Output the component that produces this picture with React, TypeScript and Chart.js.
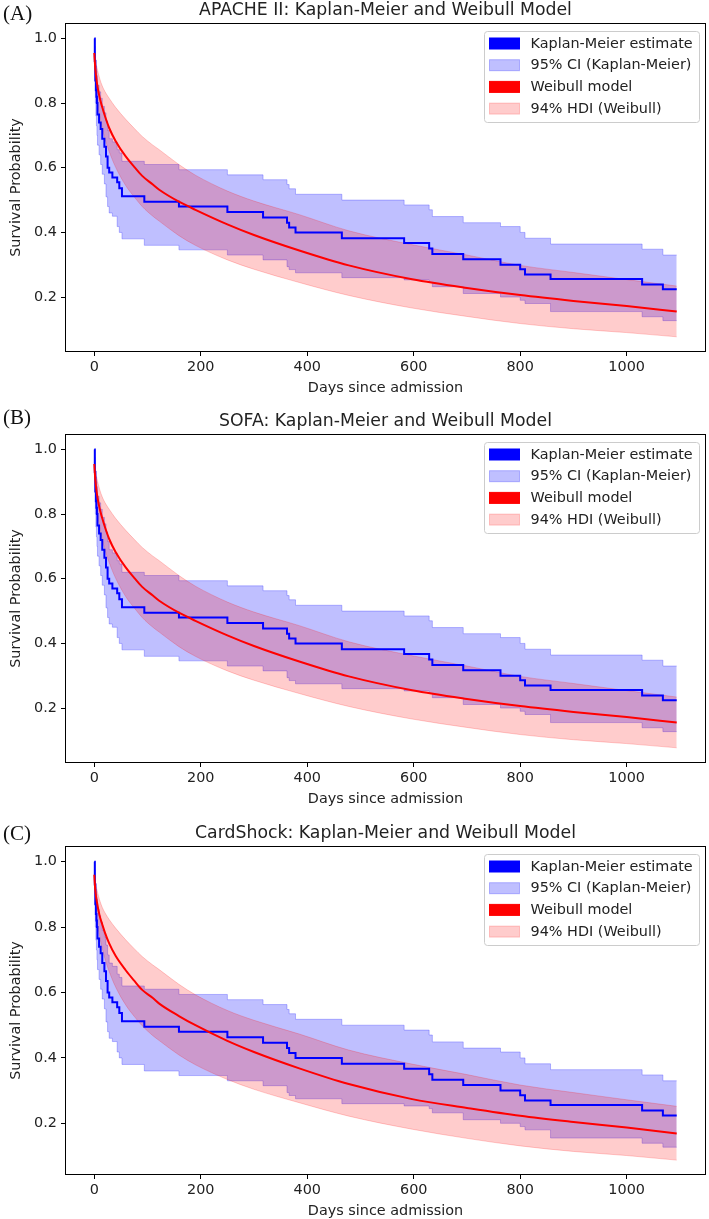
import React, { useEffect, useRef } from "react";
import { Chart, registerables } from "chart.js";

Chart.register(...registerables);

// ---------------- data ----------------
const kmDays = [0, 1, 2, 3, 4, 5, 6, 9, 12, 15, 19, 22, 25, 28, 34, 43, 47, 52, 94, 159, 250, 317, 362, 366, 378, 465, 582, 629, 635, 693, 763, 800, 809, 857, 1029, 1068, 1094];
const kmSurvival = [1.0, 0.93, 0.87, 0.84, 0.82, 0.8, 0.765, 0.74, 0.72, 0.69, 0.665, 0.635, 0.6, 0.585, 0.57, 0.555, 0.537, 0.512, 0.495, 0.48, 0.463, 0.446, 0.43, 0.415, 0.4, 0.382, 0.367, 0.35, 0.333, 0.317, 0.3, 0.286, 0.27, 0.256, 0.239, 0.224, 0.224];
const kmLower = [1.0, 0.87, 0.8, 0.76, 0.73, 0.7, 0.67, 0.64, 0.61, 0.58, 0.55, 0.51, 0.48, 0.46, 0.45, 0.418, 0.4, 0.38, 0.36, 0.346, 0.33, 0.315, 0.294, 0.285, 0.275, 0.26, 0.253, 0.245, 0.232, 0.211, 0.2, 0.19, 0.18, 0.155, 0.139, 0.127, 0.127];
const kmUpper = [1.0, 0.975, 0.935, 0.915, 0.9, 0.885, 0.855, 0.835, 0.815, 0.79, 0.77, 0.745, 0.715, 0.69, 0.68, 0.656, 0.646, 0.62, 0.61, 0.594, 0.578, 0.563, 0.548, 0.535, 0.518, 0.5, 0.485, 0.47, 0.449, 0.43, 0.418, 0.4, 0.382, 0.364, 0.348, 0.33, 0.33];

const weibullDays = [0, 2, 5, 10, 15, 20, 28, 40, 59, 75, 90, 110, 122, 159, 190, 250, 300, 385, 478, 597, 700, 800, 900, 1000, 1094];

// APACHE II and SOFA panels
const weibullAB = [0.955, 0.905, 0.862, 0.818, 0.787, 0.76, 0.723, 0.683, 0.635, 0.603, 0.575, 0.548, 0.532, 0.495, 0.47, 0.425, 0.392, 0.344, 0.298, 0.255, 0.228, 0.206, 0.188, 0.172, 0.155];
const hdiLowerAB = [0.945, 0.87, 0.812, 0.762, 0.722, 0.69, 0.65, 0.602, 0.545, 0.51, 0.48, 0.45, 0.435, 0.39, 0.36, 0.315, 0.286, 0.245, 0.205, 0.166, 0.14, 0.118, 0.102, 0.09, 0.077];
const hdiUpperAB = [0.962, 0.935, 0.91, 0.877, 0.853, 0.836, 0.815, 0.787, 0.75, 0.722, 0.697, 0.67, 0.656, 0.61, 0.577, 0.528, 0.497, 0.455, 0.405, 0.362, 0.33, 0.298, 0.276, 0.254, 0.234];

// CardShock panel
const weibullC = [0.96, 0.911, 0.876, 0.835, 0.808, 0.783, 0.75, 0.712, 0.668, 0.636, 0.608, 0.583, 0.566, 0.528, 0.5, 0.452, 0.418, 0.368, 0.32, 0.274, 0.247, 0.223, 0.204, 0.187, 0.169];
const hdiLowerC = [0.948, 0.876, 0.82, 0.772, 0.734, 0.703, 0.664, 0.617, 0.562, 0.527, 0.498, 0.468, 0.453, 0.409, 0.379, 0.334, 0.304, 0.263, 0.222, 0.182, 0.154, 0.131, 0.114, 0.1015, 0.0875];
const hdiUpperC = [0.964, 0.938, 0.914, 0.883, 0.86, 0.844, 0.823, 0.797, 0.761, 0.734, 0.71, 0.684, 0.67, 0.625, 0.593, 0.545, 0.515, 0.473, 0.424, 0.381, 0.349, 0.317, 0.294, 0.272, 0.252];

const xTicks = [0, 200, 400, 600, 800, 1000];
const yTicks = [0.2, 0.4, 0.6, 0.8, 1.0];

const legendLabels = ["Kaplan-Meier estimate", "95% CI (Kaplan-Meier)", "Weibull model", "94% HDI (Weibull)"];
const panelTitles = [
  "APACHE II: Kaplan-Meier and Weibull Model",
  "SOFA: Kaplan-Meier and Weibull Model",
  "CardShock: Kaplan-Meier and Weibull Model",
];
const panelLetters = ["(A)", "(B)", "(C)"];

// ---------------- styling ----------------
const FONT = "'DejaVu Sans', sans-serif";
const TEXT = "#222222";
const BLUE = "#0000ff";
const RED = "#ff0000";
const BLUE_FILL = "rgba(0,0,255,0.25)";
const RED_FILL = "rgba(255,0,0,0.2)";
const legendFill = [BLUE, BLUE_FILL, RED, RED_FILL];
const SMALL = 14.4;
const BIG = 17.3;

const W = 709;
const H = 411;

const toPts = (xs: number[], ys: number[]) => xs.map((x, i) => ({ x, y: ys[i] }));

const framePlugin = {
  id: "frameAndLegend",
  afterDraw(chart: any) {
    const { ctx, chartArea: ca } = chart;
    ctx.save();
    // axes box (spines)
    ctx.strokeStyle = "#000";
    ctx.lineWidth = 1;
    const l = Math.round(ca.left) + 0.5;
    const t = Math.round(ca.top) + 0.5;
    const r = Math.round(ca.right) - 0.5;
    const b = Math.round(ca.bottom) - 0.5;
    ctx.strokeRect(l, t, r - l, b - t);

    // legend
    const w = 215;
    const h = 91;
    const lx = Math.round(ca.right - 7 - w) + 0.5;
    const ly = Math.round(ca.top + 8) + 0.5;
    ctx.beginPath();
    if ((ctx as any).roundRect) (ctx as any).roundRect(lx, ly, w, h, 3);
    else ctx.rect(lx, ly, w, h);
    ctx.fillStyle = "rgba(255,255,255,0.8)";
    ctx.fill();
    ctx.strokeStyle = "#cccccc";
    ctx.lineWidth = 1;
    ctx.stroke();
    ctx.font = `${SMALL}px ${FONT}`;
    ctx.textBaseline = "middle";
    ctx.textAlign = "left";
    legendLabels.forEach((label, i) => {
      const cy = ly + 12 + i * 21.7;
      ctx.fillStyle = legendFill[i];
      ctx.fillRect(lx + 5, cy - 5.5, 30, 11);
      ctx.strokeStyle = legendFill[i];
      ctx.strokeRect(lx + 5, cy - 5.5, 30, 11);
      ctx.fillStyle = TEXT;
      ctx.fillText(label, lx + 46, cy + 0.5);
    });
    ctx.restore();
  },
};

type PanelProps = {
  title: string;
  weibull: number[];
  hdiLower: number[];
  hdiUpper: number[];
  yMin: number;
  yMax: number;
};

function Panel({ title, weibull, hdiLower, hdiUpper, yMin, yMax }: PanelProps) {
  const ref = useRef<HTMLCanvasElement | null>(null);
  useEffect(() => {
    if (!ref.current) return;
    const tickFont = { family: FONT, size: SMALL };
    const chart = new Chart(ref.current, {
      type: "line",
      data: {
        datasets: [
          {
            label: legendLabels[0],
            data: toPts(kmDays, kmSurvival),
            borderColor: BLUE,
            borderWidth: 2,
            pointRadius: 0,
            stepped: true,
            fill: false,
            order: 1,
          },
          {
            label: legendLabels[2],
            data: toPts(weibullDays, weibull),
            borderColor: RED,
            borderWidth: 2,
            pointRadius: 0,
            cubicInterpolationMode: "monotone",
            fill: false,
            order: 0,
          },
          {
            label: "CI lower",
            data: toPts(kmDays, kmLower),
            borderColor: BLUE_FILL,
            borderWidth: 1,
            pointRadius: 0,
            stepped: true,
            fill: false,
            order: 5,
          },
          {
            label: legendLabels[1],
            data: toPts(kmDays, kmUpper),
            borderColor: BLUE_FILL,
            backgroundColor: BLUE_FILL,
            borderWidth: 1,
            pointRadius: 0,
            stepped: true,
            fill: 2,
            order: 4,
          },
          {
            label: "HDI lower",
            data: toPts(weibullDays, hdiLower),
            borderColor: RED_FILL,
            borderWidth: 1,
            pointRadius: 0,
            cubicInterpolationMode: "monotone",
            fill: false,
            order: 3,
          },
          {
            label: legendLabels[3],
            data: toPts(weibullDays, hdiUpper),
            borderColor: RED_FILL,
            backgroundColor: RED_FILL,
            borderWidth: 1,
            pointRadius: 0,
            cubicInterpolationMode: "monotone",
            fill: 4,
            order: 2,
          },
        ],
      },
      options: {
        animation: false,
        responsive: false,
        maintainAspectRatio: false,
        layout: { padding: { left: 0, right: 3, top: 0, bottom: 0 } },
        plugins: {
          legend: { display: false },
          tooltip: { enabled: false },
          title: {
            display: true,
            text: title,
            fullSize: false,
            color: TEXT,
            font: { family: FONT, size: BIG, weight: "normal" },
            padding: { top: 0.5, bottom: 1.7 },
          },
        },
        scales: {
          x: {
            type: "linear",
            min: -55,
            max: 1149,
            afterBuildTicks: (s: any) => {
              s.ticks = xTicks.map((v) => ({ value: v }));
            },
            afterFit: (s: any) => {
              s.height = 59;
            },
            grid: { drawOnChartArea: false, drawTicks: true, tickLength: 4, color: "#000", lineWidth: 1 },
            border: { display: false },
            ticks: {
              color: TEXT,
              font: tickFont,
              padding: 3,
              maxRotation: 0,
              autoSkip: false,
              callback: (v: any) => String(v),
            },
            title: {
              display: true,
              text: "Days since admission",
              color: TEXT,
              font: tickFont,
              padding: { top: 0, bottom: 14.4 },
            },
          },
          y: {
            type: "linear",
            min: yMin,
            max: yMax,
            afterBuildTicks: (s: any) => {
              s.ticks = yTicks.map((v) => ({ value: v }));
            },
            afterFit: (s: any) => {
              s.width = 65;
            },
            grid: { drawOnChartArea: false, drawTicks: true, tickLength: 4, color: "#000", lineWidth: 1 },
            border: { display: false },
            ticks: {
              color: TEXT,
              font: tickFont,
              padding: 4,
              callback: (v: any) => Number(v).toFixed(1),
            },
            title: {
              display: true,
              text: "Survival Probability",
              color: TEXT,
              font: tickFont,
              padding: { top: 7.4, bottom: 0 },
            },
          },
        },
      },
      plugins: [framePlugin],
    } as any);
    return () => chart.destroy();
  }, [title, weibull, hdiLower, hdiUpper, yMin, yMax]);
  return <canvas ref={ref} width={W} height={H} style={{ display: "block", width: W, height: H }} />;
}

const panelTops = [0, 411, 823];
const letterTops = [1, 405, 821];

export default function App() {
  const panels = [
    { weibull: weibullAB, hdiLower: hdiLowerAB, hdiUpper: hdiUpperAB, yMin: 0.03, yMax: 1.048 },
    { weibull: weibullAB, hdiLower: hdiLowerAB, hdiUpper: hdiUpperAB, yMin: 0.03, yMax: 1.048 },
    { weibull: weibullC, hdiLower: hdiLowerC, hdiUpper: hdiUpperC, yMin: 0.042, yMax: 1.048 },
  ];
  return (
    <div
      style={{
        position: "absolute",
        left: 0,
        top: 0,
        width: W,
        height: 1219,
        overflow: "hidden",
        background: "#fff",
      }}
    >
      {panels.map((p, i) => (
        <div key={i} style={{ position: "absolute", left: 0, top: panelTops[i], width: W, height: H }}>
          <Panel title={panelTitles[i]} {...p} />
        </div>
      ))}
      {panelLetters.map((t, i) => (
        <div
          key={t}
          style={{
            position: "absolute",
            left: 3,
            top: letterTops[i],
            fontFamily: "'Liberation Serif', 'Times New Roman', serif",
            fontSize: 21,
            lineHeight: "24px",
            color: "#111",
          }}
        >
          {t}
        </div>
      ))}
    </div>
  );
}
